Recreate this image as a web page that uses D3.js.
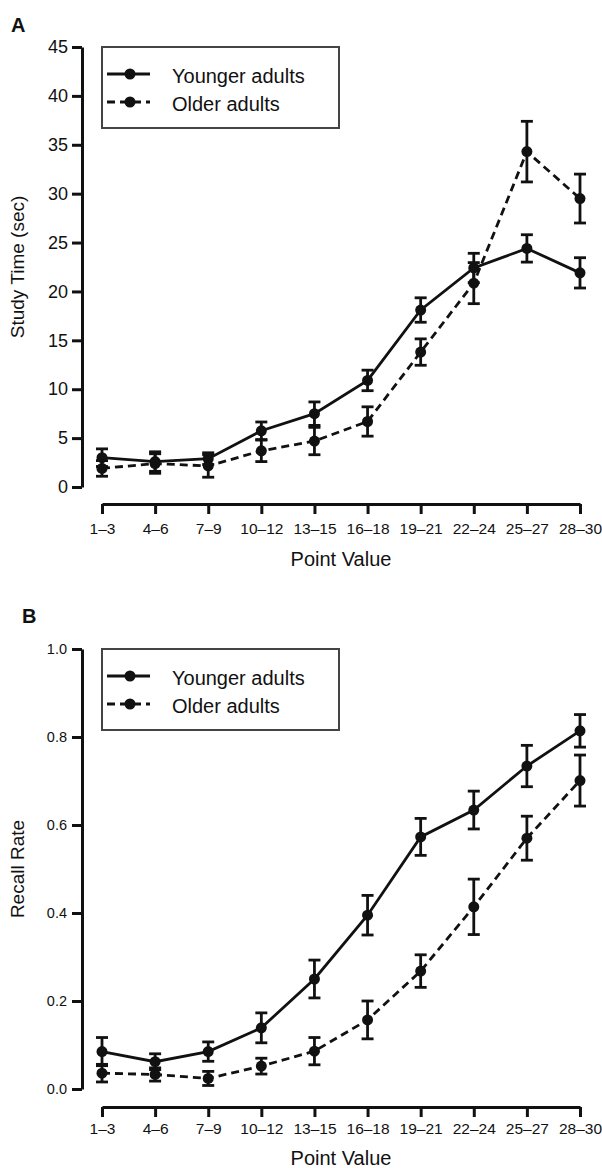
<!DOCTYPE html>
<html>
<head>
<meta charset="utf-8">
<script src="https://cdnjs.cloudflare.com/ajax/libs/d3/7.8.5/d3.min.js"></script>
<style>
  body { margin: 0; background: #fff; }
  svg text { font-family: "Liberation Sans", Arial, Helvetica, sans-serif; fill: #111; }
</style>
</head>
<body>
<svg id="chart" width="602" height="1168"></svg>
<script>
// point-value bins
var categories = ["1–3", "4–6", "7–9", "10–12", "13–15", "16–18", "19–21", "22–24", "25–27", "28–30"];
var seriesNames = ["Younger adults", "Older adults"];

// panel A: study time (sec)
var studyTicks = [0, 5, 10, 15, 20, 25, 30, 35, 40, 45];
var studyYounger = [3.0, 2.6, 2.9, 5.75, 7.5, 10.9, 18.1, 22.4, 24.4, 21.9];
var studyYoungerErr = [0.9, 1.0, 0.6, 0.9, 1.2, 1.05, 1.25, 1.5, 1.4, 1.55];
var studyOlder = [1.9, 2.4, 2.15, 3.7, 4.7, 6.7, 13.8, 20.85, 34.3, 29.5];
var studyOlderErr = [0.8, 1.0, 1.15, 1.1, 1.4, 1.5, 1.35, 2.1, 3.1, 2.5];

// panel B: recall rate
var recallTicks = [0, 0.2, 0.4, 0.6, 0.8, 1.0];
var recallYounger = [0.085, 0.062, 0.085, 0.139, 0.25, 0.395, 0.573, 0.634, 0.734, 0.814];
var recallYoungerErr = [0.032, 0.018, 0.022, 0.034, 0.043, 0.045, 0.042, 0.043, 0.047, 0.037];
var recallOlder = [0.036, 0.033, 0.024, 0.052, 0.086, 0.157, 0.268, 0.414, 0.570, 0.701];
var recallOlderErr = [0.02, 0.015, 0.016, 0.018, 0.031, 0.043, 0.037, 0.063, 0.05, 0.058];

var ink = "#111";
var svg = d3.select("#chart");

function drawPanel(p) {
  var g = svg.append("g");

  var x = d3.scalePoint().domain(categories).range([102, 580]);
  var y = d3.scaleLinear().domain([0, d3.max(p.ticks)]).range([p.bottom, p.top]);

  // panel letter
  g.append("text").attr("x", p.letterX).attr("y", p.letterY)
    .style("font-size", "20px").style("font-weight", "bold").text(p.letter);

  // y axis
  var ya = g.append("g").attr("transform", "translate(82,0)")
    .call(d3.axisLeft(y).tickValues(p.ticks).tickFormat(p.fmt)
      .tickSize(10).tickSizeOuter(0).tickPadding(p.yPad));
  ya.selectAll("text").style("font-size", p.yFont + "px");

  // x axis (offset below)
  var xa = g.append("g").attr("transform", "translate(0," + p.xAxisY + ")")
    .call(d3.axisBottom(x).tickSize(10).tickSizeOuter(0).tickPadding(p.xPad));
  xa.selectAll("text").style("font-size", "15.5px");

  g.selectAll(".domain, .tick line").attr("stroke", ink).attr("stroke-width", 3);
  g.selectAll(".tick text").style("fill", ink);

  // axis titles
  g.append("text").attr("transform", "translate(24," + ((p.top + p.bottom) / 2) + ") rotate(-90)")
    .attr("text-anchor", "middle").style("font-size", "19px").text(p.yTitle);
  g.append("text").attr("x", 341).attr("y", p.xTitleY)
    .attr("text-anchor", "middle").style("font-size", "20px").text("Point Value");

  var series = [
    { vals: p.young, err: p.youngErr, dash: null },
    { vals: p.old, err: p.oldErr, dash: "8,5" }
  ];

  series.forEach(function (s) {
    var pts = categories.map(function (c, i) { return { c: c, v: s.vals[i], e: s.err[i] }; });

    // error bars
    var eb = g.append("g").attr("stroke", ink).attr("stroke-width", 2.8);
    pts.forEach(function (d) {
      var cx = x(d.c);
      eb.append("line").attr("x1", cx).attr("x2", cx).attr("y1", y(d.v - d.e)).attr("y2", y(d.v + d.e));
      eb.append("line").attr("x1", cx - 6).attr("x2", cx + 6).attr("y1", y(d.v - d.e)).attr("y2", y(d.v - d.e));
      eb.append("line").attr("x1", cx - 6).attr("x2", cx + 6).attr("y1", y(d.v + d.e)).attr("y2", y(d.v + d.e));
    });

    // line
    var line = d3.line().x(function (d) { return x(d.c); }).y(function (d) { return y(d.v); });
    g.append("path").datum(pts).attr("d", line).attr("fill", "none")
      .attr("stroke", ink).attr("stroke-width", 2.8)
      .attr("stroke-dasharray", s.dash);

    // markers
    g.selectAll(null).data(pts).enter().append("circle")
      .attr("cx", function (d) { return x(d.c); })
      .attr("cy", function (d) { return y(d.v); })
      .attr("r", 5.5).attr("fill", ink);
  });

  // legend
  var lg = g.append("g");
  lg.append("rect").attr("x", 102).attr("y", p.top).attr("width", 237).attr("height", 81)
    .attr("fill", "#fff").attr("stroke", "#444").attr("stroke-width", 2);
  seriesNames.forEach(function (name, i) {
    var ry = p.top + 27 + i * 28;
    lg.append("line").attr("x1", 107).attr("x2", 150).attr("y1", ry).attr("y2", ry)
      .attr("stroke", ink).attr("stroke-width", 2.8)
      .attr("stroke-dasharray", i === 1 ? "8,5" : null);
    lg.append("circle").attr("cx", 130).attr("cy", ry).attr("r", 5.5).attr("fill", ink);
    lg.append("text").attr("x", 172).attr("y", ry + 8.5)
      .style("font-size", "20px").text(name);
  });
}

drawPanel({
  letter: "A", letterX: 11, letterY: 32,
  top: 47, bottom: 487, ticks: studyTicks, fmt: d3.format("d"),
  yFont: 18, yPad: 4, xAxisY: 504, xPad: 9, xTitleY: 566,
  yTitle: "Study Time (sec)",
  young: studyYounger, youngErr: studyYoungerErr,
  old: studyOlder, oldErr: studyOlderErr
});

drawPanel({
  letter: "B", letterX: 22, letterY: 623,
  top: 649, bottom: 1089, ticks: recallTicks, fmt: d3.format(".1f"),
  yFont: 14.5, yPad: 5, xAxisY: 1107, xPad: 6, xTitleY: 1165,
  yTitle: "Recall Rate",
  young: recallYounger, youngErr: recallYoungerErr,
  old: recallOlder, oldErr: recallOlderErr
});
</script>
</body>
</html>
